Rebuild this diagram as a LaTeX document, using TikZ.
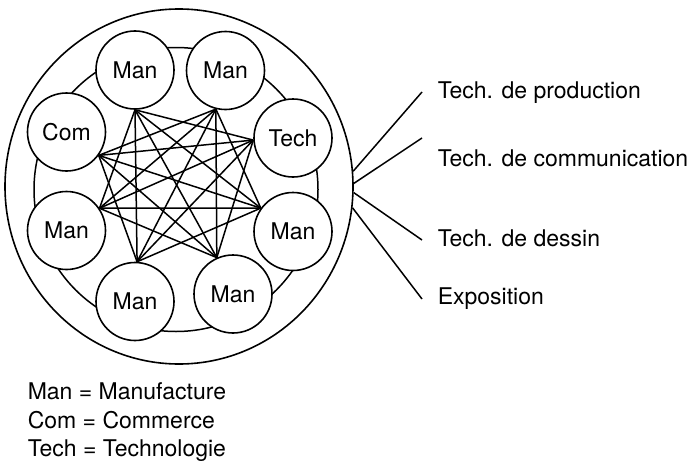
\documentclass[tikz,border=0pt]{standalone}
\usepackage{fontspec}
\setmainfont{TeX Gyre Heros}
\usetikzlibrary{shapes.geometric}
\tikzset{
  pic/.style={x=1pt,y=-1pt,line width=1.5pt},
  member/.style={circle,draw,fill=white,minimum size=78pt,inner sep=0pt,line width=1.6pt,font=\fontsize{23}{27}\selectfont},
  link/.style={line width=1.5pt},
  lbl/.style={anchor=base west,inner sep=0pt,font=\fontsize{23}{27}\selectfont},
  outerring/.style={ellipse,draw,minimum width=348pt,minimum height=355pt,inner sep=0pt,line width=1.6pt}
}
\begin{document}
\begin{tikzpicture}[pic]
\useasboundingbox (0,0) rectangle (696,463);
% outer ring
\node[outerring] (outer) at (179,186.5) {};
% inner ring
\draw[line width=1.5pt] (176,189.5) circle[radius=142pt];
% members
\node[member] (TL) at (135,70) {Man};
\node[member] (TR) at (225.5,70.5) {Man};
\node[member] (Te) at (293,138) {Tech};
\node[member] (R) at (293,231.5) {Man};
\node[member] (BR) at (233,294) {Man};
\node[member] (BL) at (135,301.5) {Man};
\node[member] (L) at (66.5,230.5) {Man};
\node[member] (Co) at (66.5,132) {Com};
% vertices of the network
\coordinate (v0) at (TL.270);
\coordinate (v1) at (TR.256);
\coordinate (v2) at (Te.183);
\coordinate (v3) at (R.144);
\coordinate (v4) at (BR.114);
\coordinate (v5) at (BL.87);
\coordinate (v6) at (L.34);
\coordinate (v7) at (Co.-36);
\foreach \i/\j in {0/2,0/3,0/4,0/5,0/6,1/3,1/4,1/5,1/6,1/7,2/4,2/5,2/6,2/7,3/5,3/6,3/7,4/6,4/7,5/7}
  \draw[link] (v\i) -- (v\j);
% branches
\coordinate (e1) at (422,92);
\coordinate (e2) at (422,138);
\coordinate (e3) at (422,240);
\coordinate (e4) at (422,299);
\draw[link] (outer.5.5) -- (e1);
\draw[link] (outer.1.2) -- (e2);
\draw[link] (outer.-2.5) -- (e3);
\draw[link] (outer.-7.7) -- (e4);
\node[lbl] (t1) at (437,98) {Tech. de production};
\node[lbl] (t2) at (437,166) {Tech. de communication};
\node[lbl] (t3) at (437,246) {Tech. de dessin};
\node[lbl] (t4) at (437,304) {Exposition};
% legend
\node[lbl] (k1) at (27,399) {Man = Manufacture};
\node[lbl] (k2) at (27,428) {Com = Commerce};
\node[lbl] (k3) at (27,456) {Tech = Technologie};
\end{tikzpicture}
\end{document}
